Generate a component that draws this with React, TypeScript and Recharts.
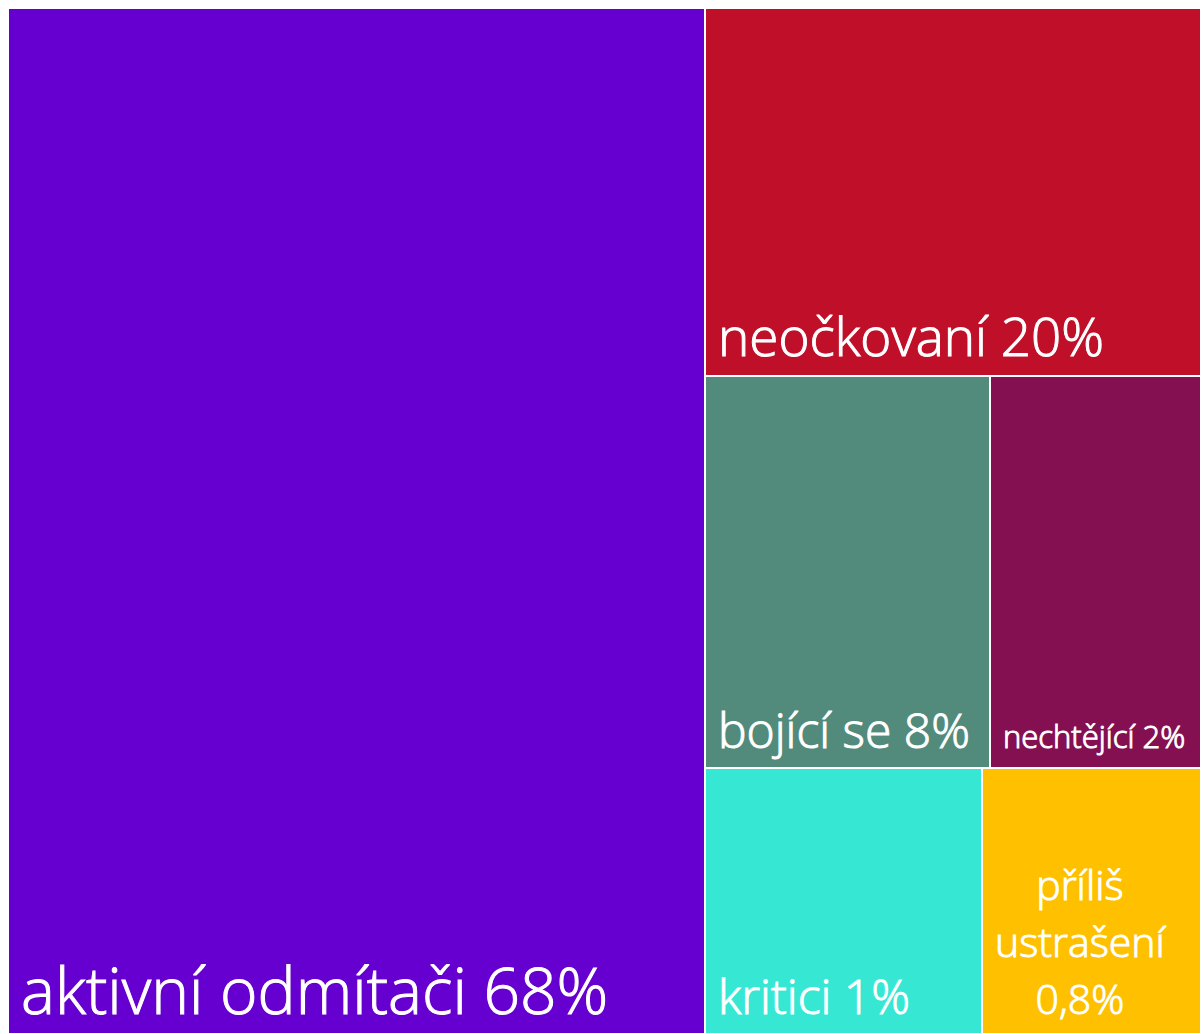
import React from 'react';
import { Treemap } from 'recharts';

// Category names and the percentages printed in the labels
const categories = ['aktivní odmítači', 'neočkovaní', 'bojící se', 'nechtějící', 'kritici', 'příliš ustrašení'];
const percentLabels = ['68%', '20%', '8%', '2%', '1%', '0,8%'];
// Relative tile areas (share of the whole treemap, %)
const areaShares = [58.42, 14.91, 9.13, 6.76, 6.02, 4.76];

// Styling (kept apart from the data)
const palette = ['#6600D0', '#C00F29', '#528B7C', '#841052', '#36E8D4', '#FFC000'];
const fontSizes = [64, 53, 48, 31, 48, 41];
const FONT = '"Open Sans", "Noto Sans", sans-serif';
const FONT_WEIGHT = 300;
const PAD_LEFT = 13;
const PAD_BOTTOM = 20;
const LINE_HEIGHT = 1.39;

const data = categories.map((name, i) => ({
  name,
  label: `${name} ${percentLabels[i]}`,
  size: areaShares[i],
  fill: palette[i],
  fontSize: fontSizes[i],
}));

let ctx: CanvasRenderingContext2D | null = null;
const measure = (text: string, size: number) => {
  if (!ctx) {
    const c = document.createElement('canvas');
    ctx = c.getContext('2d');
  }
  if (!ctx) return text.length * size * 0.5;
  ctx.font = `${FONT_WEIGHT} ${size}px ${FONT}`;
  return ctx.measureText(text).width;
};

const wrap = (text: string, size: number, maxW: number) => {
  const words = text.split(' ');
  const lines: string[] = [];
  let cur = '';
  words.forEach((w) => {
    const cand = cur ? `${cur} ${w}` : w;
    if (cur && measure(cand, size) > maxW) {
      lines.push(cur);
      cur = w;
    } else {
      cur = cand;
    }
  });
  if (cur) lines.push(cur);
  return lines;
};

const Tile = (props: any) => {
  const { x, y, width, height, depth, fill, label, fontSize } = props;
  if (depth !== 1) return <g />;
  const lines = wrap(label, fontSize, width - 2 * PAD_LEFT);
  const widths = lines.map((l) => measure(l, fontSize));
  const blockW = Math.max(...widths);
  const multi = lines.length > 1;
  const cx = x + PAD_LEFT + blockW / 2;
  const lastBase = y + height - PAD_BOTTOM;
  const lh = fontSize * LINE_HEIGHT;
  return (
    <g>
      <rect x={x} y={y} width={width} height={height} fill={fill} stroke="#ffffff" strokeWidth={2} />
      {lines.map((l, i) => (
        <text
          key={i}
          x={multi ? cx : x + PAD_LEFT}
          y={lastBase - (lines.length - 1 - i) * lh}
          textAnchor={multi ? 'middle' : 'start'}
          fill="#ffffff"
          fontSize={fontSize}
          fontFamily={FONT}
          fontWeight={FONT_WEIGHT}
        >
          {l}
        </text>
      ))}
    </g>
  );
};

export default function App() {
  return (
    <div style={{ padding: '8px 0 0 8px', width: 1193, height: 1026 }}>
      <style>{'html, body { overflow: hidden; margin: 0; }'}</style>
      <div style={{ width: 1193, height: 1026 }}>
        <Treemap
          width={1193}
          height={1026}
          data={data}
          dataKey="size"
          nameKey="name"
          aspectRatio={1}
          stroke="#ffffff"
          isAnimationActive={false}
          content={<Tile />}
        />
      </div>
    </div>
  );
}
